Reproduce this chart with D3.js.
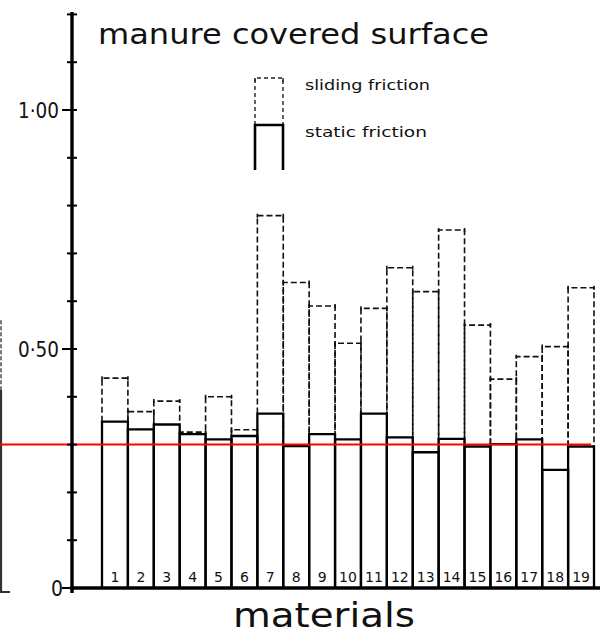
<!DOCTYPE html>
<html>
<head>
<meta charset="utf-8">
<script src="https://cdn.jsdelivr.net/npm/d3@7"></script>
<style>
  html, body { margin: 0; padding: 0; background: #fff; }
  svg { display: block; }
  text { font-family: "DejaVu Sans", sans-serif; fill: #111; }
</style>
</head>
<body>
<svg id="chart" width="606" height="634"></svg>
<script>
// ---- data ----
const materials = ["1","2","3","4","5","6","7","8","9","10","11","12","13","14","15","16","17","18","19"];
const staticFriction  = [0.348,0.332,0.342,0.322,0.311,0.318,0.365,0.297,0.322,0.311,0.365,0.315,0.284,0.312,0.296,0.301,0.311,0.247,0.296];
const slidingFriction = [0.439,0.369,0.391,0.326,0.400,0.331,0.779,0.639,0.590,0.512,0.585,0.670,0.620,0.749,0.550,0.437,0.484,0.505,0.628];
const yTicks = [0,0.1,0.2,0.3,0.4,0.5,0.6,0.7,0.8,0.9,1.0,1.1,1.2];
const yTickLabels = [{v:0, t:"0"}, {v:0.5, t:"0·50"}, {v:1.0, t:"1·00"}];
const referenceLine = 0.30;
const edgeStatic = 0.415, edgeSliding = 0.56; // partial neighbouring bar at the left border
const title = "manure covered surface";
const xTitle = "materials";
const legendLabels = ["sliding friction", "static friction"];

// ---- layout ----
const svg = d3.select("#chart");
const y = d3.scaleLinear().domain([0, 1.2]).range([588, 14.4]);
const x = d3.scaleBand().domain(materials).range([102, 594]).padding(0);
const axisX = 72;

// partial bar at left border
svg.append("line").attr("x1",1).attr("x2",1).attr("y1",y(edgeSliding)).attr("y2",y(edgeStatic))
  .attr("stroke","#555").attr("stroke-width",1.6).attr("stroke-dasharray","4,2");
svg.append("path").attr("d",`M1,${y(edgeStatic)} L1,${y(0)+4} L10,${y(0)+4}`)
  .attr("fill","none").attr("stroke","#333").attr("stroke-width",2.2);

// bars
const g = svg.append("g");
materials.forEach((m,i) => {
  const x0 = x(m), x1 = x(m) + x.bandwidth();
  const ys = y(staticFriction[i]), yd = y(slidingFriction[i]);
  g.append("path")
    .attr("d", `M${x0},${ys} L${x0},${yd} L${x1},${yd} L${x1},${ys}`)
    .attr("fill","none").attr("stroke","#111").attr("stroke-width",1.6)
    .attr("stroke-dasharray","6,3");
  g.append("path").attr("d",`M${x0},${yd-2} L${x0},${yd+2} M${x1},${yd-2} L${x1},${yd+2}`)
    .attr("stroke","#111").attr("stroke-width",1.6);
});
materials.forEach((m,i) => {
  const x0 = x(m), x1 = x(m) + x.bandwidth();
  const ys = y(staticFriction[i]);
  g.append("path")
    .attr("d", `M${x0},${y(0)} L${x0},${ys} L${x1},${ys} L${x1},${y(0)}`)
    .attr("fill","none").attr("stroke","#000").attr("stroke-width",2.3);
  g.append("text")
    .attr("x", x0 + x.bandwidth()/2).attr("y", 582)
    .attr("text-anchor","middle").attr("font-size", 14)
    .text(m);
});

// reference line
svg.append("line").attr("x1",0).attr("x2",591)
  .attr("y1",y(referenceLine)).attr("y2",y(referenceLine))
  .attr("stroke","#ff0000").attr("stroke-width",2);

// x axis line
svg.append("line").attr("x1",axisX-2).attr("x2",600).attr("y1",y(0)).attr("y2",y(0))
  .attr("stroke","#000").attr("stroke-width",3.4);

// y axis
svg.append("line").attr("x1",axisX).attr("x2",axisX).attr("y1",12).attr("y2",593)
  .attr("stroke","#000").attr("stroke-width",3.4);
svg.selectAll(".ytick").data(yTicks).enter().append("line")
  .attr("x1", d => (d===0 || d===0.5 || d===1.0) ? axisX-10 : axisX-5)
  .attr("x2", axisX+5)
  .attr("y1", d => y(d)).attr("y2", d => y(d))
  .attr("stroke","#000").attr("stroke-width",2);
svg.selectAll(".ylab").data(yTickLabels).enter().append("text")
  .attr("x", d => d.v === 0 ? 63 : 59)
  .attr("y", d => y(d.v) + 8)
  .attr("text-anchor","end")
  .attr("font-size", 22)
  .attr("textLength", d => d.v === 0 ? 12 : 41)
  .attr("lengthAdjust","spacingAndGlyphs")
  .text(d => d.t);

// title
svg.append("text").attr("x",98).attr("y",44).attr("font-size",29)
  .attr("textLength",391).attr("lengthAdjust","spacingAndGlyphs").text(title);

// x title
svg.append("text").attr("x",233).attr("y",627).attr("font-size",34)
  .attr("textLength",182).attr("lengthAdjust","spacingAndGlyphs").text(xTitle);

// legend
svg.append("path").attr("d","M255,125 L255,78 L283,78 L283,125")
  .attr("fill","none").attr("stroke","#222").attr("stroke-width",1.4).attr("stroke-dasharray","4,3");
svg.append("path").attr("d","M255,78 L255,82 M283,78 L283,82")
  .attr("stroke","#222").attr("stroke-width",1.4);
svg.append("path").attr("d","M255,170 L255,125 L283,125 L283,170")
  .attr("fill","none").attr("stroke","#000").attr("stroke-width",2.6);
svg.append("text").attr("x",305).attr("y",90).attr("font-size",14)
  .attr("textLength",125).attr("lengthAdjust","spacingAndGlyphs").text(legendLabels[0]);
svg.append("text").attr("x",305).attr("y",137).attr("font-size",14)
  .attr("textLength",122).attr("lengthAdjust","spacingAndGlyphs").text(legendLabels[1]);
</script>
</body>
</html>
